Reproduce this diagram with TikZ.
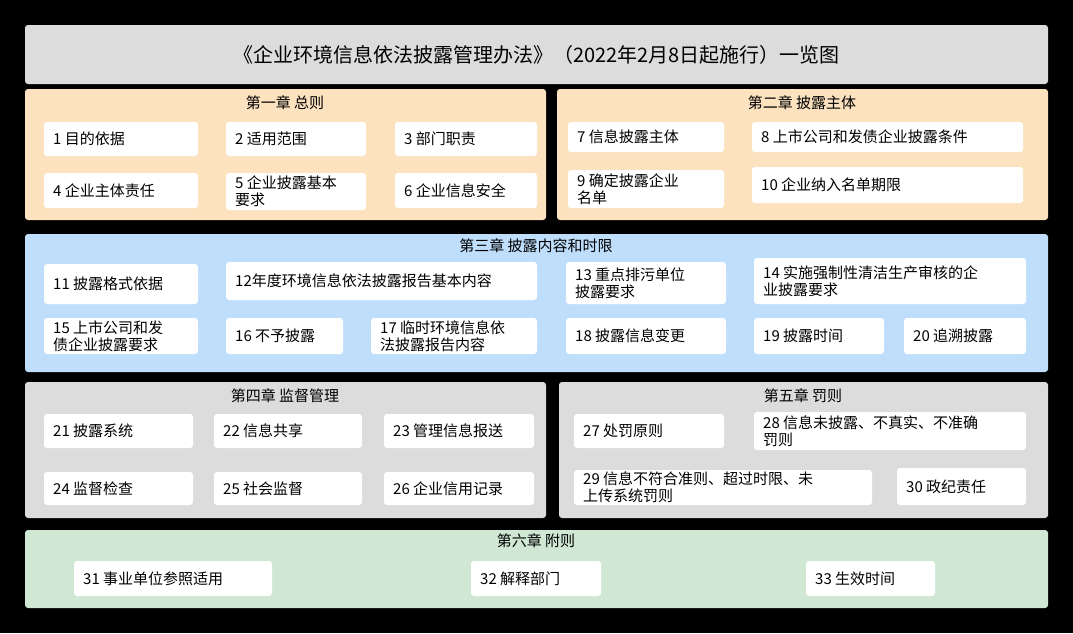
\documentclass[tikz,border=0pt]{standalone}
\usepackage{fontspec}
\setmainfont{Noto Sans CJK SC}
\definecolor{bluep}{HTML}{BEDEFC}
\definecolor{orp}{HTML}{FDE2C0}
\definecolor{grp}{HTML}{DCDCDC}
\definecolor{gnp}{HTML}{CFE7D3}
\begin{document}
\begin{tikzpicture}[x=1pt,y=-1pt,
  panel/.style={rounded corners=3pt,draw=none},
  itembox/.style={fill=white,rounded corners=3pt,draw=none},
  itemtext/.style={anchor=west,inner sep=0pt,align=left,font=\fontsize{15}{17}\selectfont},
  chap/.style={font=\fontsize{15}{17}\selectfont,inner sep=0pt}]
\useasboundingbox[fill=black] (0,0) rectangle (1073,633);
\newcommand\bx[6]{%
  \fill[itembox] (#2,#3) rectangle (#4,#5);
  \node[itemtext] (n#1) at (#2+9,{(#3+#5)/2}) {#6};}
% panels
\fill[panel,fill=grp] (25,25) rectangle (1048,84);
\node[font=\fontsize{20}{24}\selectfont] (title) at (536.5,55) {《企业环境信息依法披露管理办法》（2022年2月8日起施行）一览图};
\fill[panel,fill=orp] (25,89) rectangle (546,220);
\fill[panel,fill=orp] (557,89) rectangle (1048,220);
\fill[panel,fill=bluep] (25,234) rectangle (1048,372);
\fill[panel,fill=grp] (25,382) rectangle (546,518);
\fill[panel,fill=grp] (559,382) rectangle (1048,518);
\fill[panel,fill=gnp] (25,530) rectangle (1048,608);
\node[chap] (c1) at (285,103) {第一章\ 总则};
\node[chap] (c2) at (802,103) {第二章\ 披露主体};
\node[chap] (c3) at (536,246) {第三章\ 披露内容和时限};
\node[chap] (c4) at (285,396) {第四章\ 监督管理};
\node[chap] (c5) at (803,396) {第五章\ 罚则};
\node[chap] (c6) at (536,541) {第六章\ 附则};
\bx{1}{44}{122}{198}{156}{1 目的依据}
\bx{2}{226}{122}{366}{156}{2 适用范围}
\bx{3}{395}{122}{537}{156}{3 部门职责}
\bx{4}{44}{173}{198}{208}{4 企业主体责任}
\bx{5}{226}{173}{366}{210}{5 企业披露基本\\要求}
\bx{6}{395}{173}{537}{208}{6 企业信息安全}
\bx{7}{568}{122}{724}{152}{7 信息披露主体}
\bx{8}{752}{122}{1023}{152}{8 上市公司和发债企业披露条件}
\bx{9}{568}{170}{724}{208}{9 确定披露企业\\名单}
\bx{10}{752}{167}{1023}{203}{10 企业纳入名单期限}
\bx{11}{44}{264}{198}{304}{11 披露格式依据}
\bx{12}{226}{262}{537}{300}{12年度环境信息依法披露报告基本内容}
\bx{13}{566}{262}{726}{304}{13 重点排污单位\\披露要求}
\bx{14}{754}{258}{1026}{304}{14 实施强制性清洁生产审核的企\\业披露要求}
\bx{15}{44}{318}{198}{354}{15 上市公司和发\\债企业披露要求}
\bx{16}{226}{318}{343}{354}{16 不予披露}
\bx{17}{371}{318}{537}{354}{17 临时环境信息依\\法披露报告内容}
\bx{18}{566}{318}{726}{354}{18 披露信息变更}
\bx{19}{754}{318}{884}{354}{19 披露时间}
\bx{20}{904}{318}{1026}{354}{20 追溯披露}
\bx{21}{44}{414}{193}{448}{21 披露系统}
\bx{22}{214}{414}{362}{448}{22 信息共享}
\bx{23}{384}{414}{534}{448}{23 管理信息报送}
\bx{24}{44}{472}{193}{505}{24 监督检查}
\bx{25}{214}{472}{362}{505}{25 社会监督}
\bx{26}{384}{472}{534}{505}{26 企业信用记录}
\bx{27}{574}{414}{724}{448}{27 处罚原则}
\bx{28}{754}{412}{1026}{450}{28 信息未披露、不真实、不准确\\罚则}
\bx{29}{574}{470}{872}{505}{29 信息不符合准则、超过时限、未\\上传系统罚则}
\bx{30}{897}{468}{1026}{505}{30 政纪责任}
\bx{31}{74}{561}{272}{596}{31 事业单位参照适用}
\bx{32}{471}{561}{601}{596}{32 解释部门}
\bx{33}{806}{561}{935}{596}{33 生效时间}
\end{tikzpicture}
\end{document}
